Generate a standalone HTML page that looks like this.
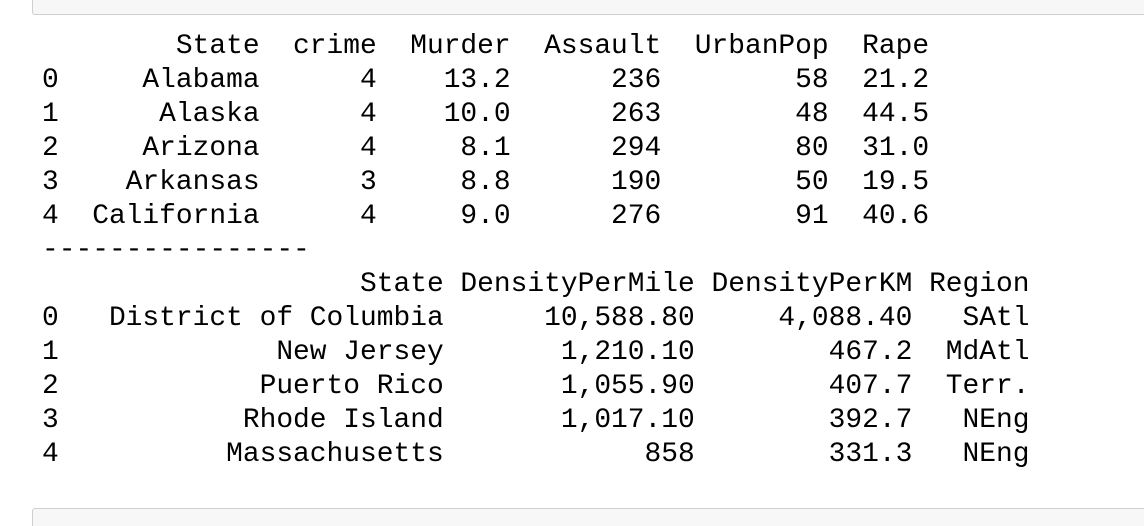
<!DOCTYPE html>
<html><head><meta charset="utf-8"><style>
html,body{margin:0;padding:0;background:#fff;width:1144px;height:526px;overflow:hidden;position:relative}
.box{position:absolute;left:32px;width:1140px;background:#f7f7f7;border:1px solid #cfcfcf;border-radius:3px}
pre{position:absolute;left:42px;margin:0;font-family:"Liberation Mono",monospace;font-size:27.9px;line-height:34px;color:#000}
</style></head><body>
<div class="box" style="top:-10px;height:23px"></div>
<pre style="top:30px">        State  crime  Murder  Assault  UrbanPop  Rape
0     Alabama      4    13.2      236        58  21.2
1      Alaska      4    10.0      263        48  44.5
2     Arizona      4     8.1      294        80  31.0
3    Arkansas      3     8.8      190        50  19.5
4  California      4     9.0      276        91  40.6
----------------
                   State DensityPerMile DensityPerKM Region
0   District of Columbia      10,588.80     4,088.40   SAtl
1             New Jersey       1,210.10        467.2  MdAtl
2            Puerto Rico       1,055.90        407.7  Terr.
3           Rhode Island       1,017.10        392.7   NEng
4          Massachusetts            858        331.3   NEng</pre>
<div class="box" style="top:508px;height:40px"></div>
</body></html>
